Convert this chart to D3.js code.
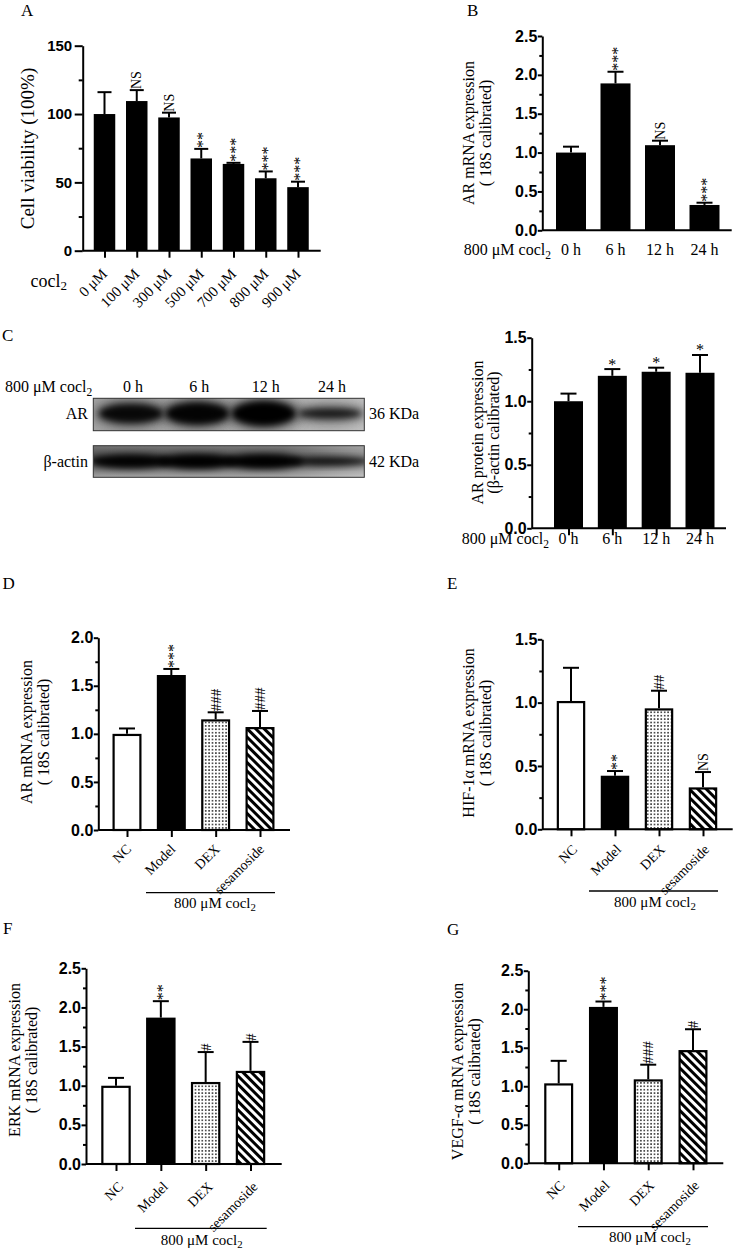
<!DOCTYPE html>
<html><head><meta charset="utf-8">
<script src="https://cdn.jsdelivr.net/npm/d3@7"></script>
<style>
body{margin:0;background:#fff;}
svg{display:block;}
</style></head><body>
<svg id="fig" width="737" height="1249"></svg>
<script>
// ---------------- DATA ----------------
const doseCats = ["0 μM","100 μM","300 μM","500 μM","700 μM","800 μM","900 μM"];
const viability = [100, 109.5, 97.5, 67.5, 63.5, 53, 46.5];
const viabilityErr = [16, 8, 3.5, 7, 0.8, 5, 4];
const viabilitySig = ["", "NS", "NS", "**", "***", "***", "***"];

const timeCats = ["0 h","6 h","12 h","24 h"];
const arMrnaTime = [1.0, 1.89, 1.095, 0.326];
const arMrnaTimeErr = [0.076, 0.15, 0.058, 0.029];
const arMrnaTimeSig = ["", "***", "NS", "***"];

const arProtein = [1.0, 1.2, 1.232, 1.224];
const arProteinErr = [0.06, 0.053, 0.032, 0.14];
const arProteinSig = ["", "*", "*", "*"];

const blotLanes = ["0 h","6 h","12 h","24 h"];
const arBandIntensity = [0.82, 0.92, 1.0, 0.55];
const actinBandIntensity = [0.95, 1.0, 1.0, 0.7];

const groupCats = ["NC","Model","DEX","sesamoside"];
const groupFills = ["white","black","dots","stripes"];

const arMrnaGroup = [1.0, 1.612, 1.151, 1.071];
const arMrnaGroupErr = [0.056, 0.063, 0.073, 0.167];
const arMrnaGroupSig = ["", "***", "###", "###"];

const hif = [1.013, 0.423, 0.955, 0.331];
const hifErr = [0.262, 0.037, 0.139, 0.121];
const hifSig = ["", "**", "##", "NS"];

const erk = [1.0, 1.87, 1.048, 1.19];
const erkErr = [0.1, 0.21, 0.382, 0.37];
const erkSig = ["", "**", "#", "#"];

const vegf = [1.038, 2.03, 1.09, 1.47];
const vegfErr = [0.292, 0.07, 0.19, 0.27];
const vegfSig = ["", "***", "###", "#"];

const ticksA = [0, 50, 100, 150], minorA = [25, 75, 125];
const ticks25 = [0, 0.5, 1.0, 1.5, 2.0, 2.5], minor25 = [0.25, 0.75, 1.25, 1.75, 2.25];
const ticks20 = [0, 0.5, 1.0, 1.5, 2.0], minor20 = [0.25, 0.75, 1.25, 1.75];
const ticks15 = [0, 0.5, 1.0, 1.5], minor15 = [0.25, 0.75, 1.25];

// ---------------- SETUP ----------------
const SERIF = "'Liberation Serif','Times New Roman',serif";
const SANS = "'Liberation Sans',Arial,sans-serif";
const svg = d3.select("#fig");
const defs = svg.append("defs");

const pd = defs.append("pattern").attr("id","dots").attr("patternUnits","userSpaceOnUse").attr("width",3.4).attr("height",3.4);
pd.append("rect").attr("width",3.4).attr("height",3.4).attr("fill","#fff");
pd.append("circle").attr("cx",1.7).attr("cy",1.7).attr("r",0.8).attr("fill","#000");

const ps = defs.append("pattern").attr("id","stripes").attr("patternUnits","userSpaceOnUse")
  .attr("width",6).attr("height",6).attr("patternTransform","rotate(-45)");
ps.append("rect").attr("width",6).attr("height",6).attr("fill","#fff");
ps.append("rect").attr("width",3).attr("height",6).attr("fill","#000");

defs.append("filter").attr("id","blur3").attr("x","-50%").attr("y","-50%").attr("width","200%").attr("height","200%")
  .append("feGaussianBlur").attr("stdDeviation",3);
defs.append("filter").attr("id","blur6").attr("x","-50%").attr("y","-50%").attr("width","200%").attr("height","200%")
  .append("feGaussianBlur").attr("stdDeviation",6);

const gAr = defs.append("linearGradient").attr("id","arBg").attr("x1",0).attr("x2",1).attr("y1",0).attr("y2",0);
gAr.append("stop").attr("offset","0%").attr("stop-color","#a6a6a6");
gAr.append("stop").attr("offset","100%").attr("stop-color","#c2c2c2");
const gAc = defs.append("linearGradient").attr("id","acBg").attr("x1",0).attr("x2",0).attr("y1",0).attr("y2",1);
gAc.append("stop").attr("offset","0%").attr("stop-color","#747474");
gAc.append("stop").attr("offset","45%").attr("stop-color","#3c3c3c");
gAc.append("stop").attr("offset","100%").attr("stop-color","#a4a4a4");
const gAc2 = defs.append("linearGradient").attr("id","acFade").attr("x1",0).attr("x2",1).attr("y1",0).attr("y2",0);
gAc2.append("stop").attr("offset","0%").attr("stop-color","#fff").attr("stop-opacity",0);
gAc2.append("stop").attr("offset","70%").attr("stop-color","#fff").attr("stop-opacity",0.05);
gAc2.append("stop").attr("offset","100%").attr("stop-color","#fff").attr("stop-opacity",0.35);

function coclText(sel, main, size) {
  sel.append("tspan").text(main);
  sel.append("tspan").text("2").attr("font-size", size * 0.72).attr("dy", size * 0.22);
}

function panelLetter(t, x, y) {
  svg.append("text").attr("x",x).attr("y",y).attr("font-family",SERIF).attr("font-size",17).text(t);
}

// ---------------- GENERIC BAR PANEL ----------------
function drawPanel(p) {
  const g = svg.append("g");
  const y = d3.scaleLinear().domain([0, p.max]).range([p.y0, p.yTop]);
  const x = d3.scalePoint().domain(p.cats).range([p.c0, p.c1]);
  const rows = p.cats.map((c, i) => ({c, v: p.values[i], e: p.errs[i], s: p.sig[i], f: p.fills ? p.fills[i] : "black"}));

  g.selectAll("rect.bar").data(rows).join("rect").attr("class","bar")
    .attr("x", d => x(d.c) - p.bw/2 + (d.f === "black" ? 0 : 1.1))
    .attr("y", d => y(d.v) + (d.f === "black" ? 0 : 1.1))
    .attr("width", d => p.bw - (d.f === "black" ? 0 : 2.2))
    .attr("height", d => p.y0 - y(d.v) - (d.f === "black" ? 0 : 1.1))
    .attr("fill", d => d.f === "black" ? "#000" : d.f === "white" ? "#fff" : `url(#${d.f})`)
    .attr("stroke", d => d.f === "black" ? "none" : "#000")
    .attr("stroke-width", 2.2);

  g.selectAll("line.err").data(rows).join("line").attr("class","err")
    .attr("x1", d => x(d.c)).attr("x2", d => x(d.c))
    .attr("y1", d => y(d.v)).attr("y2", d => y(d.v + d.e))
    .attr("stroke","#000").attr("stroke-width",2);
  g.selectAll("line.cap").data(rows).join("line").attr("class","cap")
    .attr("x1", d => x(d.c) - p.cap/2).attr("x2", d => x(d.c) + p.cap/2)
    .attr("y1", d => y(d.v + d.e)).attr("y2", d => y(d.v + d.e))
    .attr("stroke","#000").attr("stroke-width",2);

  const sigRows = rows.filter(d => d.s);
  if (p.flatSig) {
    g.selectAll("text.sig").data(sigRows).join("text").attr("class","sig")
      .attr("x", d => x(d.c)).attr("y", d => y(d.v + d.e) + 0.5)
      .attr("text-anchor","middle").attr("font-family",SERIF).attr("font-size",16)
      .text(d => d.s);
  } else {
    const fs = s => s[0] === "*" ? 16 : s[0] === "#" ? 15 : 14;
    const off = s => s[0] === "*" ? 0.45 : s[0] === "#" ? 0.34 : 0.33;
    g.selectAll("text.sig").data(sigRows).join("text").attr("class","sig")
      .attr("transform", d => `translate(${x(d.c) + off(d.s) * fs(d.s)},${y(d.v + d.e) - 1}) rotate(-90)`)
      .attr("text-anchor","start").attr("font-family",SERIF).attr("font-size", d => fs(d.s))
      .text(d => d.s);
  }

  const ya = g.append("g").attr("transform",`translate(${p.ax},0)`)
    .call(d3.axisLeft(y).tickValues(p.major).tickSize(p.tick).tickSizeOuter(0).tickPadding(p.pad).tickFormat(p.fmt));
  ya.select(".domain").attr("stroke","#000").attr("stroke-width",2);
  ya.selectAll(".tick line").attr("stroke","#000").attr("stroke-width",2);
  ya.selectAll(".tick text").attr("font-family",SANS).attr("font-weight","bold").attr("font-size",p.tfs).attr("fill","#000");
  const ym = g.append("g").attr("transform",`translate(${p.ax},0)`)
    .call(d3.axisLeft(y).tickValues(p.minor).tickSize(p.mtick).tickSizeOuter(0).tickFormat(""));
  ym.select(".domain").remove();
  ym.selectAll(".tick line").attr("stroke","#000").attr("stroke-width",2);

  g.append("line").attr("x1",p.ax).attr("x2",p.xEnd).attr("y1",p.y0).attr("y2",p.y0)
    .attr("stroke","#000").attr("stroke-width",2);
  if (p.xTicks) {
    const xa = g.append("g").attr("transform",`translate(0,${p.y0})`)
      .call(d3.axisBottom(x).tickSize(7).tickSizeOuter(0).tickFormat(""));
    xa.select(".domain").remove();
    xa.selectAll(".tick line").attr("stroke","#000").attr("stroke-width",2);
  }

  if (p.rot) {
    g.selectAll("text.xl").data(p.cats).join("text").attr("class","xl")
      .attr("transform", d => `translate(${x(d) + p.rdx},${p.y0 + p.rdy}) rotate(-45)`)
      .attr("text-anchor","end").attr("font-family",SERIF).attr("font-size",p.xfs).text(d => d);
  } else {
    g.selectAll("text.xl").data(p.cats).join("text").attr("class","xl")
      .attr("x", d => x(d)).attr("y", p.ly)
      .attr("text-anchor","middle").attr("font-family",SERIF).attr("font-size",16).text(d => d);
  }

  p.title.forEach((t, i) => {
    g.append("text").attr("transform",`translate(${p.tx[i]},${p.tcy}) rotate(-90)`)
      .attr("text-anchor","middle").attr("font-family",SERIF).attr("font-size",p.tfsz || 16).text(t);
  });

  if (p.bracket) {
    const b = p.bracket;
    g.append("line").attr("x1",b.x0).attr("x2",b.x1).attr("y1",b.y).attr("y2",b.y).attr("stroke","#000").attr("stroke-width",1.3);
    const t = g.append("text").attr("x",b.tx).attr("y",b.ty).attr("text-anchor","middle")
      .attr("font-family",SERIF).attr("font-size",15);
    coclText(t, "800 μM cocl", 15);
  }
  return g;
}

// ---------------- PANEL A ----------------
panelLetter("A", 21, 16);
drawPanel({cats: doseCats, values: viability, errs: viabilityErr, sig: viabilitySig,
  ax: 82.7, xEnd: 320.7, y0: 250.7, yTop: 45.7, max: 150, major: ticksA, minor: minorA,
  tick: 8, mtick: 4, pad: 2.5, fmt: d3.format("d"), tfs: 15,
  c0: 104.5, c1: 298, bw: 21.5, cap: 14, xTicks: true,
  rot: true, rdx: 3.5, rdy: 24, xfs: 15,
  title: ["Cell viability (100%)"], tx: [34], tcy: 148.5, tfsz: 19});
{
  const t = svg.append("text").attr("x",30.5).attr("y",287).attr("font-family",SERIF).attr("font-size",18);
  t.append("tspan").text("cocl");
  t.append("tspan").text("2").attr("font-size",13).attr("dy",3);
}

// ---------------- PANEL B ----------------
panelLetter("B", 467, 16);
drawPanel({cats: timeCats, values: arMrnaTime, errs: arMrnaTimeErr, sig: arMrnaTimeSig,
  ax: 542.3, xEnd: 731.7, y0: 230.3, yTop: 36, max: 2.5, major: ticks25, minor: minor25,
  tick: 4.5, mtick: 3, pad: 0.5, fmt: d3.format(".1f"), tfs: 16,
  c0: 571, c1: 704.5, bw: 30, cap: 16, xTicks: false, rot: false, ly: 255,
  title: ["AR mRNA expression", "( 18S calibrated)"], tx: [474, 491], tcy: 133});
{
  const t = svg.append("text").attr("x",551).attr("y",255).attr("text-anchor","end").attr("font-family",SERIF).attr("font-size",16);
  coclText(t, "800 μM cocl", 16);
}

// ---------------- PANEL C (blot) ----------------
panelLetter("C", 2, 340.7);
(function drawBlot() {
  const g = svg.append("g");
  const lx = d3.scalePoint().domain(blotLanes).range([131, 330]);
  const bx0 = 93.3, bx1 = 364.3;
  const arY0 = 398.3, arY1 = 430.7, acY0 = 445.7, acY1 = 477.3;

  const h = svg.append("text").attr("x",5).attr("y",392).attr("font-family",SERIF).attr("font-size",16);
  coclText(h, "800 μM cocl", 16);
  g.selectAll("text.lane").data(blotLanes).join("text").attr("class","lane")
    .attr("x", d => lx(d) + 2).attr("y", 392).attr("text-anchor","middle")
    .attr("font-family",SERIF).attr("font-size",16).text(d => d);

  defs.append("clipPath").attr("id","clipAr").append("rect").attr("x",bx0).attr("y",arY0).attr("width",bx1-bx0).attr("height",arY1-arY0);
  defs.append("clipPath").attr("id","clipAc").append("rect").attr("x",bx0).attr("y",acY0).attr("width",bx1-bx0).attr("height",acY1-acY0);

  g.append("rect").attr("x",bx0).attr("y",arY0).attr("width",bx1-bx0).attr("height",arY1-arY0).attr("fill","url(#arBg)");
  const ar = g.append("g").attr("clip-path","url(#clipAr)");
  const ry = d3.scaleLinear().domain([0.5, 1]).range([4.5, 12.5]);
  const arMid = (arY0 + arY1) / 2 - 1;
  ar.selectAll("ellipse.halo").data(arBandIntensity).join("ellipse").attr("class","halo")
    .attr("cx",(d,i)=>lx(blotLanes[i])).attr("cy",arMid).attr("rx",38).attr("ry",d=>ry(d)+6)
    .attr("fill","#4a4a4a").attr("opacity",d=>0.35 + 0.4*d).attr("filter","url(#blur6)");
  ar.selectAll("ellipse.band").data(arBandIntensity).join("ellipse").attr("class","band")
    .attr("cx",(d,i)=>lx(blotLanes[i])).attr("cy",arMid).attr("rx",32).attr("ry",d=>ry(d))
    .attr("fill","#000").attr("opacity",d=>0.55 + 0.45*d).attr("filter","url(#blur3)");
  g.append("rect").attr("x",bx0).attr("y",arY0).attr("width",bx1-bx0).attr("height",arY1-arY0)
    .attr("fill","none").attr("stroke","#333").attr("stroke-width",1);

  g.append("rect").attr("x",bx0).attr("y",acY0).attr("width",bx1-bx0).attr("height",acY1-acY0).attr("fill","url(#acBg)");
  const ac = g.append("g").attr("clip-path","url(#clipAc)");
  const acMid = (acY0 + acY1) / 2;
  ac.append("rect").attr("x",bx0).attr("y",acY0).attr("width",bx1-bx0).attr("height",acY1-acY0).attr("fill","url(#acFade)");
  ac.selectAll("ellipse.band").data(actinBandIntensity).join("ellipse").attr("class","band")
    .attr("cx",(d,i)=>lx(blotLanes[i])).attr("cy",acMid).attr("rx",40).attr("ry",d=>ry(d)*0.6)
    .attr("fill","#000").attr("opacity",d=>0.4 + 0.6*d).attr("filter","url(#blur3)");
  g.append("rect").attr("x",bx0).attr("y",acY0).attr("width",bx1-bx0).attr("height",acY1-acY0)
    .attr("fill","none").attr("stroke","#333").attr("stroke-width",1);

  g.append("text").attr("x",88).attr("y",419).attr("text-anchor","end").attr("font-family",SERIF).attr("font-size",16).text("AR");
  g.append("text").attr("x",88).attr("y",467).attr("text-anchor","end").attr("font-family",SERIF).attr("font-size",16).text("β-actin");
  g.append("text").attr("x",369).attr("y",419).attr("font-family",SERIF).attr("font-size",16).text("36 KDa");
  g.append("text").attr("x",369).attr("y",467).attr("font-family",SERIF).attr("font-size",16).text("42 KDa");
})();

drawPanel({cats: timeCats, values: arProtein, errs: arProteinErr, sig: arProteinSig, flatSig: true,
  ax: 531.7, xEnd: 726, y0: 528.3, yTop: 337.7, max: 1.5, major: ticks15, minor: minor15,
  tick: 4.5, mtick: 3, pad: 0.5, fmt: d3.format(".1f"), tfs: 16,
  c0: 568.5, c1: 700, bw: 29, cap: 16, xTicks: true, rot: false, ly: 544,
  title: ["AR protein expression", "(β-actin calibrated)"], tx: [483, 499], tcy: 432.5});
{
  const t = svg.append("text").attr("x",549).attr("y",544).attr("text-anchor","end").attr("font-family",SERIF).attr("font-size",16);
  coclText(t, "800 μM cocl", 16);
}

// ---------------- PANEL D ----------------
panelLetter("D", 2.5, 589);
drawPanel({cats: groupCats, values: arMrnaGroup, errs: arMrnaGroupErr, sig: arMrnaGroupSig, fills: groupFills,
  ax: 98.3, xEnd: 290, y0: 830, yTop: 637.7, max: 2.0, major: ticks20, minor: minor20,
  tick: 4.5, mtick: 3, pad: 0.5, fmt: d3.format(".1f"), tfs: 16,
  c0: 127, c1: 260, bw: 29, cap: 16, xTicks: true, rot: true, rdx: 5, rdy: 20, xfs: 14,
  title: ["AR mRNA expression", "( 18S calibrated)"], tx: [32, 49], tcy: 732,
  bracket: {x0: 146, x1: 275, y: 892.7, tx: 215, ty: 908}});

// ---------------- PANEL E ----------------
panelLetter("E", 447, 589);
drawPanel({cats: groupCats, values: hif, errs: hifErr, sig: hifSig, fills: groupFills,
  ax: 542.3, xEnd: 732.7, y0: 829.3, yTop: 639.3, max: 1.5, major: ticks15, minor: minor15,
  tick: 4.5, mtick: 3, pad: 0.5, fmt: d3.format(".1f"), tfs: 16,
  c0: 571, c1: 703, bw: 28.5, cap: 16, xTicks: true, rot: true, rdx: 7, rdy: 21, xfs: 14,
  title: ["HIF-1α mRNA expression", "( 18S calibrated)"], tx: [474, 491], tcy: 733,
  bracket: {x0: 589, x1: 718, y: 891, tx: 655, ty: 907}});

// ---------------- PANEL F ----------------
panelLetter("F", 3, 934);
drawPanel({cats: groupCats, values: erk, errs: erkErr, sig: erkSig, fills: groupFills,
  ax: 86, xEnd: 281.7, y0: 1164, yTop: 968.3, max: 2.5, major: ticks25, minor: minor25,
  tick: 4.5, mtick: 3, pad: 0.5, fmt: d3.format(".1f"), tfs: 16,
  c0: 116, c1: 250.5, bw: 29.5, cap: 16, xTicks: true, rot: true, rdx: 8, rdy: 23.5, xfs: 14,
  title: ["ERK mRNA expression", "( 18S calibrated)"], tx: [20, 36.5], tcy: 1060,
  bracket: {x0: 135, x1: 266.7, y: 1228.3, tx: 201.7, ty: 1245}});

// ---------------- PANEL G ----------------
panelLetter("G", 447, 935);
drawPanel({cats: groupCats, values: vegf, errs: vegfErr, sig: vegfSig, fills: groupFills,
  ax: 528.3, xEnd: 723.3, y0: 1163.3, yTop: 970.7, max: 2.5, major: ticks25, minor: minor25,
  tick: 4.5, mtick: 3, pad: 0.5, fmt: d3.format(".1f"), tfs: 16,
  c0: 558.7, c1: 693, bw: 29, cap: 16, xTicks: true, rot: true, rdx: 7, rdy: 23, xfs: 14,
  title: ["VEGF-α mRNA expression", "( 18S calibrated)"], tx: [463, 480], tcy: 1071.5,
  bracket: {x0: 578, x1: 708, y: 1226.7, tx: 650, ty: 1242}});
</script>
</body></html>
